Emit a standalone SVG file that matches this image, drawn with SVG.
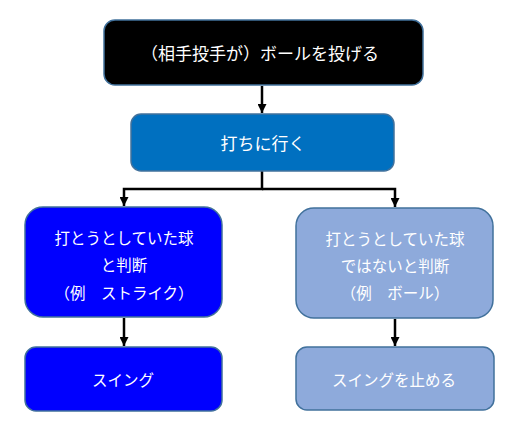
<svg xmlns="http://www.w3.org/2000/svg" width="521" height="429" viewBox="0 0 521 429">
<defs>
<style>
.box{stroke:#41719c;stroke-width:1.5}
.t{font-family:"Noto Sans CJK JP","Noto Sans",sans-serif;fill:#ffffff;text-anchor:middle;dominant-baseline:central}
.c{fill:none;stroke:#000000;stroke-width:2.5}
</style>
<marker id="ah" viewBox="0 0 10 10" refX="10" refY="5" markerWidth="3.6" markerHeight="3.6" orient="auto" markerUnits="strokeWidth">
<path d="M0,0 L10,5 L0,10 z" fill="#000000"/>
</marker>
</defs>
<rect width="521" height="429" fill="#ffffff"/>
<g id="connectors">
<path class="c" d="M262,86 V113" marker-end="url(#ah)"/>
<path class="c" d="M262,171 V189 H124 V206" marker-end="url(#ah)"/>
<path class="c" d="M262,189 H395 V207" marker-end="url(#ah)"/>
<path class="c" d="M124,318 V346" marker-end="url(#ah)"/>
<path class="c" d="M395,319 V346" marker-end="url(#ah)"/>
</g>
<g id="n1">
<rect class="box" x="104" y="20" width="319" height="65" rx="11" fill="#000000"/>
<text class="t" x="260" y="52" font-size="17">（相手投手が）ボールを投げる</text>
</g>
<g id="n2">
<rect class="box" x="131" y="114" width="263" height="57" rx="10" fill="#0070c0"/>
<text class="t" x="263" y="142" font-size="17">打ちに行く</text>
</g>
<g id="n3">
<rect class="box" x="25" y="207" width="197" height="110" rx="18" fill="#0000ff"/>
<text class="t" x="124" y="237" font-size="15.5">打とうとしていた球</text>
<text class="t" x="124" y="264" font-size="15.5">と判断</text>
<text class="t" x="124" y="292" font-size="15.5">（例　ストライク）</text>
</g>
<g id="n4">
<rect class="box" x="296" y="208" width="197" height="110" rx="18" fill="#8eaadb"/>
<text class="t" x="395" y="238" font-size="15.5">打とうとしていた球</text>
<text class="t" x="395" y="265" font-size="15.5">ではないと判断</text>
<text class="t" x="395" y="292" font-size="15.5">（例　ボール）</text>
</g>
<g id="n5">
<rect class="box" x="25" y="347" width="197" height="64" rx="11" fill="#0000ff"/>
<text class="t" x="123" y="379" font-size="15.5">スイング</text>
</g>
<g id="n6">
<rect class="box" x="296" y="347" width="198" height="63" rx="11" fill="#8eaadb"/>
<text class="t" x="394" y="379" font-size="15.5">スイングを止める</text>
</g>
</svg>
